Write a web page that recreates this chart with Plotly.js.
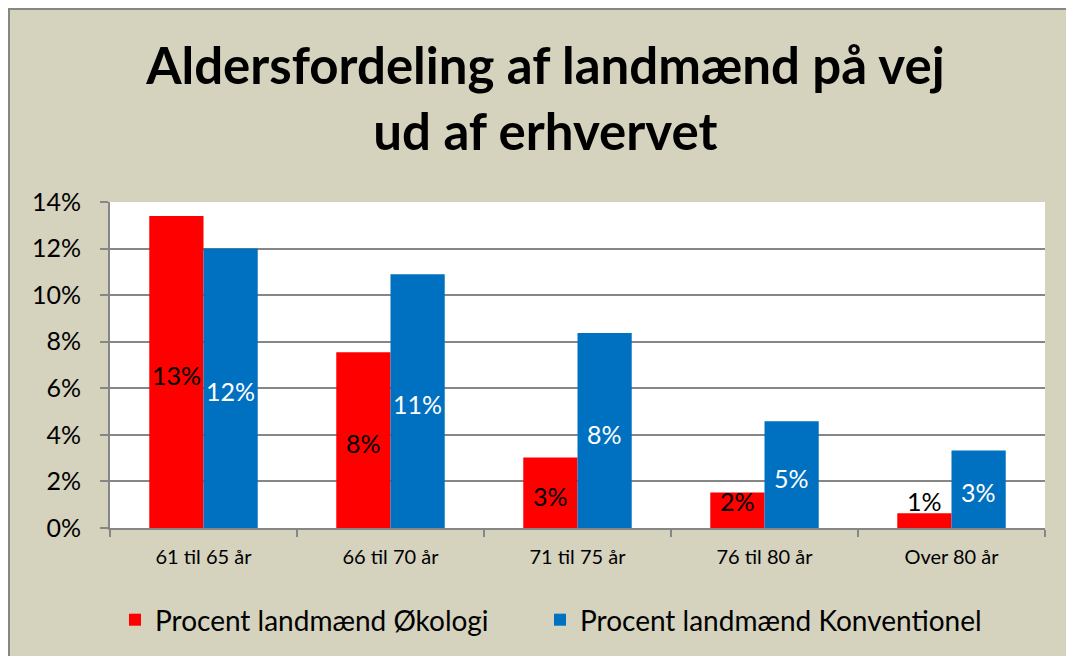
<!DOCTYPE html>
<html>
<head>
<meta charset="utf-8">
<script src="https://cdn.plot.ly/plotly-3.0.1.min.js"></script>
<style>
  html, body { margin: 0; padding: 0; background: #ffffff; width: 1066px; height: 656px; overflow: hidden; }
  #frame { position: absolute; left: 8px; top: 8px; width: 1058px; height: 648px; background: #868686; }
  #chart { position: absolute; left: 10px; top: 10px; width: 1056px; height: 646px; }
</style>
</head>
<body>
<div id="frame"></div>
<div id="chart"></div>
<script>
const categories = ["61 til 65 år", "66 til 70 år", "71 til 75 år", "76 til 80 år", "Over 80 år"];
const okologi = [0.134, 0.0755, 0.0303, 0.0152, 0.0063];
const konventionel = [0.120, 0.109, 0.0837, 0.0458, 0.0333];
const seriesNames = ["Procent landmænd Økologi", "Procent landmænd Konventionel"];
const yTickValues = [0, 0.02, 0.04, 0.06, 0.08, 0.10, 0.12, 0.14];
const yTickLabels = ["0%", "2%", "4%", "6%", "8%", "10%", "12%", "14%"];

const FONT = "Lato, 'Open Sans', 'DejaVu Sans', sans-serif";
const RED = "#FF0000";
const BLUE = "#0070C0";
const BG = "#D5D2BE";

const traces = [
  { type: "bar", name: seriesNames[0], x: categories, y: okologi, marker: { color: RED }, hoverinfo: "skip", legend: "legend" },
  { type: "bar", name: seriesNames[1], x: categories, y: konventionel, marker: { color: BLUE }, hoverinfo: "skip", legend: "legend2" }
];

function labelY(v) { return Math.max(v / 2, 0.013); }
const annotations = [];
categories.forEach((c, i) => {
  annotations.push({ x: c, y: labelY(okologi[i]), xref: "x", yref: "y", xshift: -27, yshift: -3,
    text: Math.round(okologi[i] * 100) + "%", showarrow: false, yanchor: "middle",
    font: { family: FONT, size: 25, color: "#000000" } });
  annotations.push({ x: c, y: labelY(konventionel[i]), xref: "x", yref: "y", xshift: 27, yshift: -3,
    text: Math.round(konventionel[i] * 100) + "%", showarrow: false, yanchor: "middle",
    font: { family: FONT, size: 25, color: "#FFFFFF" } });
});

const legendCommon = {
  orientation: "h", xref: "container", yref: "container",
  xanchor: "left", y: 1 - 610 / 646, yanchor: "middle",
  font: { family: FONT, size: 28, color: "#000000" }, bgcolor: "rgba(0,0,0,0)",
  itemwidth: 30
};

const layout = {
  width: 1056, height: 646,
  paper_bgcolor: BG, plot_bgcolor: "#FFFFFF",
  margin: { l: 100, r: 21, t: 192, b: 128, pad: 0 },
  font: { family: FONT, color: "#000000" },
  title: {
    text: "<b>Aldersfordeling af landmænd på vej<br>ud af erhvervet</b>",
    font: { family: FONT, size: 51, color: "#000000" },
    x: 0.507, xanchor: "center", xref: "container",
    y: 1 - 74 / 646, yanchor: "middle", yref: "container"
  },
  barmode: "group", bargap: 0.42, bargroupgap: 0,
  xaxis: {
    type: "category", showgrid: false, showline: true, linecolor: "#868686", linewidth: 2,
    ticks: "outside", tickson: "boundaries", ticklen: 7, tickwidth: 2, tickcolor: "#868686",
    ticklabelstandoff: 10,
    tickfont: { family: FONT, size: 20, color: "#000000" }, zeroline: false, fixedrange: true
  },
  yaxis: {
    range: [0, 0.14], tickvals: yTickValues, ticktext: yTickLabels,
    showgrid: true, gridcolor: "#868686", gridwidth: 2,
    showline: true, linecolor: "#868686", linewidth: 2,
    ticks: "outside", ticklen: 8, tickwidth: 2, tickcolor: "#868686",
    ticklabelstandoff: 14,
    tickfont: { family: FONT, size: 25, color: "#000000" }, zeroline: false, fixedrange: true
  },
  legend: Object.assign({}, legendCommon, { x: 105 / 1056 }),
  legend2: Object.assign({}, legendCommon, { x: 530 / 1056 }),
  annotations: annotations,
  showlegend: true
};

Plotly.newPlot("chart", traces, layout, { displayModeBar: false, staticPlot: true });
</script>
</body>
</html>
